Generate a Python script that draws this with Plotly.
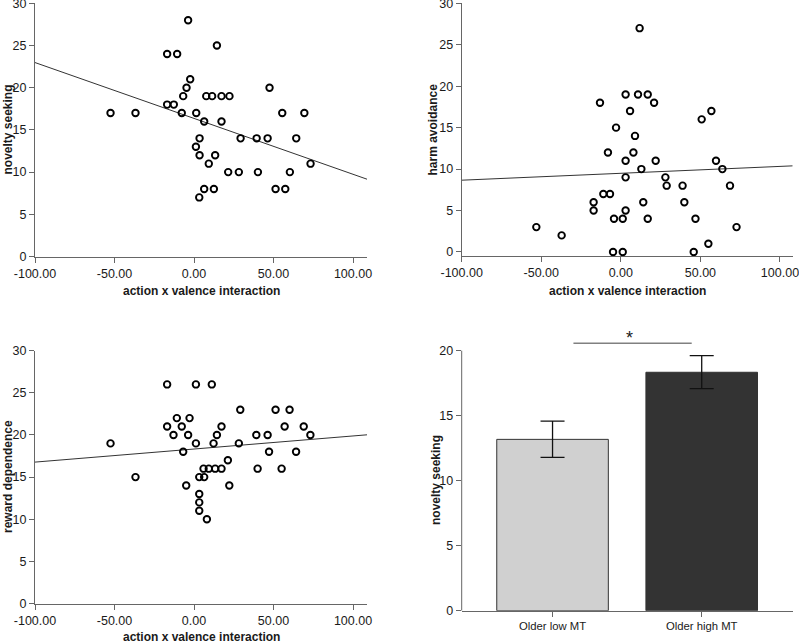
import plotly.graph_objects as go

# ---------------- data ----------------
ns_x = [-52.5, -36.8, -16.9, -10.6, -3.7, 14.4, -16.9, -12.7, -2.4, -4.7, -6.8, -7.7, 1.4, 6.4,
        7.7, 11.4, 17.3, 22.3, 17.3, 47.5, 55.5, 69.4, 3.5, 1.2, 3.5, 13.3, 9.3, 29.3, 39.4,
        46.3, 64.3, 73.3, 21.5, 28.2, 40.2, 60.3, 6.4, 12.5, 51.3, 57.4, 3.3]
ns_y = [17, 17, 24, 24, 28, 25, 18, 18, 21, 20, 19, 17, 17, 16,
        19, 19, 19, 19, 16, 20, 17, 17, 14, 13, 12, 12, 11, 14, 14,
        14, 14, 11, 10, 10, 10, 10, 8, 8, 8, 8, 7]

ha_x = [-53.1, -37.2, -17.1, -17.1, -13.1, -11.0, -6.8, -8.1, -3.0, -4.3, 1.2, -4.9, 1.2,
        3.0, 10.8, 16.9, 20.9, 11.8, 5.8, 8.9, 7.9, 3.0, 21.9, 12.9, 3.0, 3.0, 14.1, 16.9,
        28.0, 28.8, 38.8, 39.9, 46.9, 45.8, 50.8, 56.9, 59.8, 63.8, 68.6, 72.7, 55.0]
ha_y = [3, 2, 6, 5, 18, 7, 7, 12, 15, 4, 4, 0, 0,
        19, 19, 19, 18, 27, 17, 14, 12, 11, 11, 10, 9, 5, 6, 4,
        9, 8, 8, 6, 4, 0, 16, 17, 11, 10, 8, 3, 1]

rd_x = [-52.5, -36.8, -16.9, 1.2, 11.2, -10.8, -2.8, -16.9, -7.7, -12.9, -3.7, -6.8, 1.2,
        12.3, 14.4, 17.3, -4.9, 3.3, 6.4, 6.0, 9.3, 13.3, 17.3, 3.3, 3.3, 3.3, 8.1, 21.3,
        22.2, 29.1, 28.2, 39.2, 40.0, 46.3, 47.2, 51.3, 60.1, 57.0, 55.1, 64.2, 69.0, 73.2]
rd_y = [19, 15, 26, 26, 26, 22, 22, 21, 21, 20, 20, 18, 19,
        19, 20, 21, 14, 15, 15, 16, 16, 16, 16, 13, 12, 11, 10, 17,
        14, 23, 19, 20, 16, 20, 18, 23, 23, 21, 16, 18, 21, 20]

# fit lines
ns_fit_x = [-100, 108.8]
ns_fit_y = [22.98, 9.16]
ha_fit_x = [-100, 108.0]
ha_fit_y = [8.66, 10.39]
rd_fit_x = [-100, 108.8]
rd_fit_y = [16.78, 20.02]

# bar chart
bar_labels = ["Older low MT", "Older high MT"]
bar_means = [13.18, 18.34]
bar_upper = [14.59, 19.62]
bar_lower = [11.80, 17.08]
bar_colors = ["#d0d0d0", "#333333"]
sig_x = [0.14, 0.933]
sig_y = [20.57, 20.57]
sig_text = "*"

x_ticks = [-100, -50, 0, 50, 100]
x_ticktext = [f"{v:.2f}" for v in x_ticks]
y_ticks30 = [0, 5, 10, 15, 20, 25, 30]
y_ticks20 = [0, 5, 10, 15, 20]

# ---------------- figure ----------------
W, H = 799, 643
AX = "#666666"
TXT = "#1a1a1a"
FONT = "Liberation Sans, Arial, sans-serif"


def px_dom_x(a, b):
    return [a / W, b / W]


def px_dom_y(top, bottom):
    return [1 - bottom / H, 1 - top / H]


fig = go.Figure()

marker = dict(symbol="circle-open", size=6.5, color="#000000", line=dict(width=1.9, color="#000000"))

for i, (xs, ys, fx, fy) in enumerate([(ns_x, ns_y, ns_fit_x, ns_fit_y),
                                      (ha_x, ha_y, ha_fit_x, ha_fit_y),
                                      (rd_x, rd_y, rd_fit_x, rd_fit_y)]):
    suf = "" if i == 0 else str(i + 1)
    fig.add_trace(go.Scatter(x=fx, y=fy, mode="lines", line=dict(color="#333333", width=1),
                             xaxis="x" + suf, yaxis="y" + suf, showlegend=False, hoverinfo="skip"))
    fig.add_trace(go.Scatter(x=xs, y=ys, mode="markers", marker=marker,
                             xaxis="x" + suf, yaxis="y" + suf, showlegend=False, cliponaxis=False))

# bars
fig.add_trace(go.Bar(
    x=list(range(len(bar_labels))), y=bar_means, width=0.748,
    marker=dict(color=bar_colors, line=dict(color="#333333", width=1)),
    error_y=dict(type="data", symmetric=False,
                 array=[u - m for u, m in zip(bar_upper, bar_means)],
                 arrayminus=[m - l for m, l in zip(bar_means, bar_lower)],
                 color="#111111", thickness=1.3, width=12),
    xaxis="x4", yaxis="y4", showlegend=False))
fig.add_trace(go.Scatter(x=sig_x, y=sig_y, mode="lines", line=dict(color="#808080", width=1.6),
                         xaxis="x4", yaxis="y4", showlegend=False, hoverinfo="skip"))

common_axis = dict(showline=True, linecolor=AX, linewidth=1, ticks="outside", ticklen=5,
                   tickcolor=AX, tickwidth=1, showgrid=False, zeroline=False, automargin=False,
                   ticklabeloverflow="allow",
                   tickfont=dict(family=FONT, size=12.5, color=TXT))

xfmt = dict(common_axis, tickvals=x_ticks, ticktext=x_ticktext)

layout = dict(
    width=W, height=H, margin=dict(l=0, r=0, t=0, b=0, autoexpand=False),
    plot_bgcolor="white", paper_bgcolor="white",
    font=dict(family=FONT, size=12, color=TXT),
    xaxis=dict(xfmt, domain=px_dom_x(35, 367), range=[-100, 108.8], anchor="y"),
    yaxis=dict(common_axis, domain=px_dom_y(3.3, 256.5), range=[0, 30], tickvals=y_ticks30, anchor="x"),
    xaxis2=dict(xfmt, domain=px_dom_x(461.7, 792.7), range=[-100, 108.0], anchor="y2"),
    yaxis2=dict(common_axis, domain=px_dom_y(3.3, 255.7), range=[-0.45, 30], tickvals=y_ticks30, anchor="x2"),
    xaxis3=dict(xfmt, domain=px_dom_x(35, 367), range=[-100, 108.8], anchor="y3"),
    yaxis3=dict(common_axis, domain=px_dom_y(350.7, 603.5), range=[0, 30], tickvals=y_ticks30, anchor="x3"),
    xaxis4=dict(common_axis, domain=px_dom_x(461.7, 792.7), range=[-0.609, 1.61], anchor="y4",
                tickvals=list(range(len(bar_labels))), ticktext=bar_labels,
                tickfont=dict(family=FONT, size=11.3, color=TXT)),
    yaxis4=dict(common_axis, showline=False, domain=px_dom_y(610.7 - 21.5 * 13, 610.7), range=[0, 21.5],
                tickvals=y_ticks20, anchor="x4"),
)
fig.update_layout(**layout)

# y axis line for bar panel (0..20 only)
fig.add_shape(type="line", xref="x4 domain", yref="y4", x0=0, x1=0, y0=0, y1=max(y_ticks20),
              line=dict(color=AX, width=1))

# significance star
fig.add_annotation(x=sum(sig_x) / 2 - 0.02, y=sig_y[0], xref="x4", yref="y4", text=sig_text,
                   showarrow=False, yanchor="bottom", yshift=-7,
                   font=dict(family=FONT, size=18, color=TXT))

# axis titles
title_font = dict(family=FONT, size=12, color=TXT, weight="bold")
for txt, x, y in [("action x valence interaction", 201, 290.7),
                  ("action x valence interaction", 627, 290.7),
                  ("action x valence interaction", 201, 637.0)]:
    fig.add_annotation(x=x / W, y=1 - y / H, xref="paper", yref="paper", text=txt, showarrow=False,
                       font=title_font, xanchor="center", yanchor="middle")
for txt, x, y in [("novelty seeking", 7.5, 130),
                  ("harm avoidance", 432.5, 130),
                  ("reward dependence", 8, 477),
                  ("novelty seeking", 436, 480)]:
    fig.add_annotation(x=x / W, y=1 - y / H, xref="paper", yref="paper", text=txt, showarrow=False,
                       font=title_font, textangle=-90, xanchor="center", yanchor="middle")

fig.write_html("out.html", config={"displayModeBar": False},
               post_script="document.body.style.margin='0';document.body.style.overflow='hidden';")
